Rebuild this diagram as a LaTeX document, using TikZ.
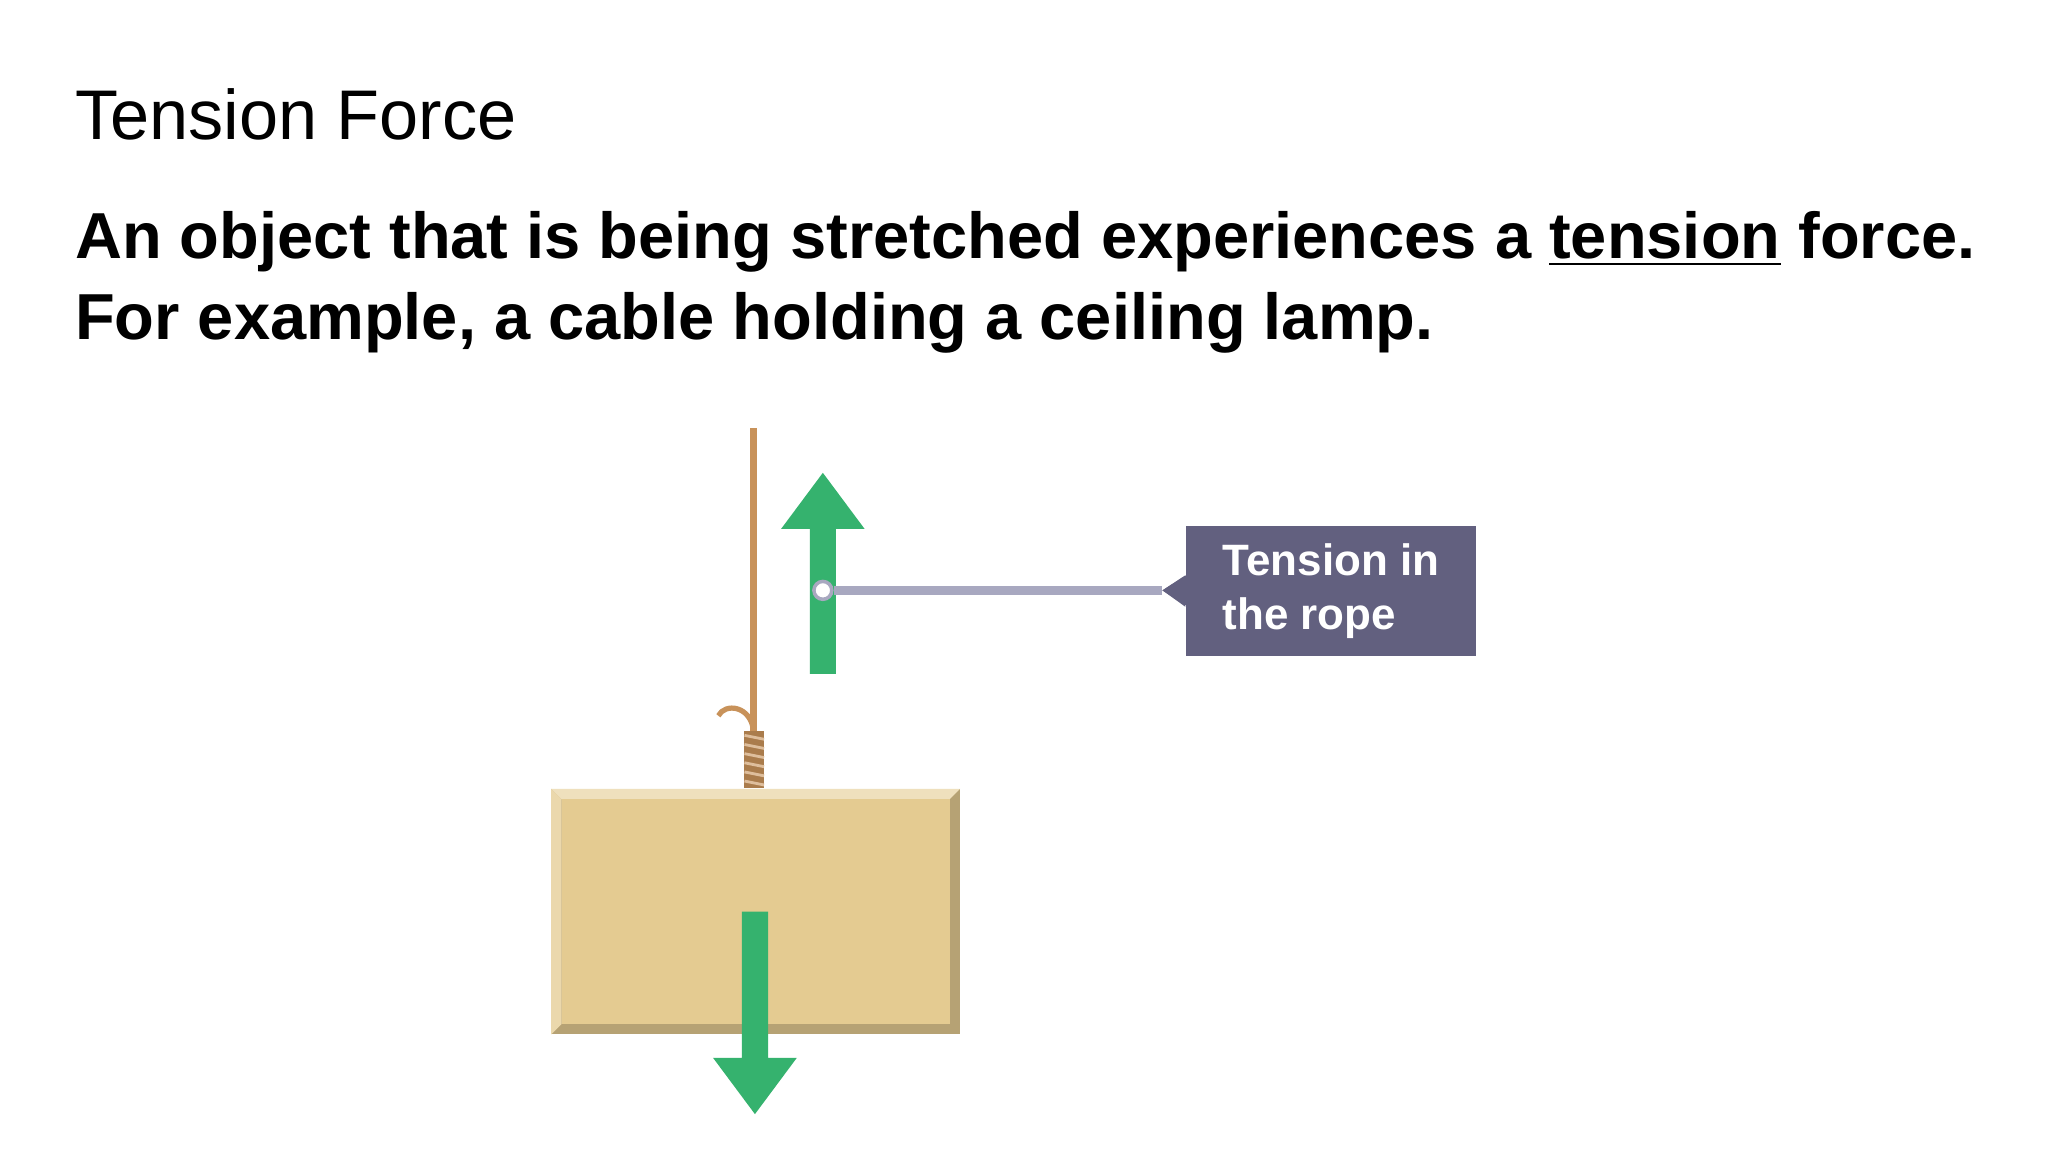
\documentclass[tikz,border=0pt]{standalone}
\usepackage{fontspec}
\setmainfont{Liberation Sans}
\begin{document}
\begin{tikzpicture}[x=0.013061cm,y=-0.013061cm,
  green arrow/.style={fill=arrowgreen,draw=none},
  rope/.style={draw=ropebrown,line width=5*0.3705pt},
  bodytext/.style={anchor=base west,inner sep=0pt,font=\fontsize{18.5}{22}\selectfont\bfseries}]
\definecolor{arrowgreen}{HTML}{35B26E}
\definecolor{ropebrown}{HTML}{C8925A}
\definecolor{boxfill}{HTML}{E4CB91}
\definecolor{labelfill}{HTML}{62607F}
\definecolor{pointer}{HTML}{A8A8C0}
\useasboundingbox (0,0) rectangle (1568,882);
\fill[white] (0,0) rectangle (1568,882);
% texts
\node[bodytext,font=\fontsize{20}{24}\selectfont] (title) at (57,107) {Tension Force};
\node[bodytext] (line1) at (57,198) {An object that is being stretched experiences a \underline{tension} force.};
\node[bodytext] (line2) at (57,260) {For example, a cable holding a ceiling lamp.};
% rope
\coordinate (ropetop) at (577,328);
\coordinate (ropebot) at (577,562);
\draw[rope] (ropetop) -- (ropebot);
\draw[rope,line width=4*0.3705pt] (577,560) .. controls (575,540) and (555,538) .. (550,548);
\fill[ropebrown!85!black] (570,560) rectangle (585,603);
\foreach \yy in {563,570,577,584,591,598}
  \draw[ropebrown!60!white,line width=0.8pt] (570,\yy) -- (585,\yy+3);
% box
\fill[boxfill!80!black] (422,604) rectangle (735,792);
\fill[boxfill!60!white] (422,604) -- (735,604) -- (727,612) -- (430,612) -- cycle;
\fill[boxfill!75!white] (422,604) -- (430,612) -- (430,784) -- (422,792) -- cycle;
\node[fill=boxfill,draw=none,minimum width=297*0.013061cm,minimum height=172*0.013061cm,inner sep=0pt] (box) at (578.5,698) {};
% up arrow
\fill[green arrow] (620,516) -- (620,405) -- (598,405) -- (630,362) -- (662,405) -- (640,405) -- (640,516) -- cycle;
% down arrow
\fill[green arrow] (568,698) -- (568,810) -- (546,810) -- (578,853) -- (610,810) -- (588,810) -- (588,698) -- cycle;
% label
\node[fill=labelfill,text=white,inner sep=0pt,minimum width=222*0.013061cm,minimum height=99*0.013061cm,align=left,
  font=\fontsize{12.5}{15.5}\selectfont\bfseries] (label) at (1019,452.5) {Tension in\\the rope};
\fill[labelfill] (label.west) ++(0,-12) -- (890,452) -- ([yshift=-12*0.013061cm]label.west) -- cycle;
\coordinate (tip) at (890,452);
\node[circle,fill=white,draw=pointer,line width=1pt,inner sep=1.8pt] (dot) at (630,452) {};
\draw[pointer,line width=2.5pt] (dot) -- (tip);
\fill[labelfill] (890,452) -- (909,440) -- (909,464) -- cycle;
\end{tikzpicture}
\end{document}
